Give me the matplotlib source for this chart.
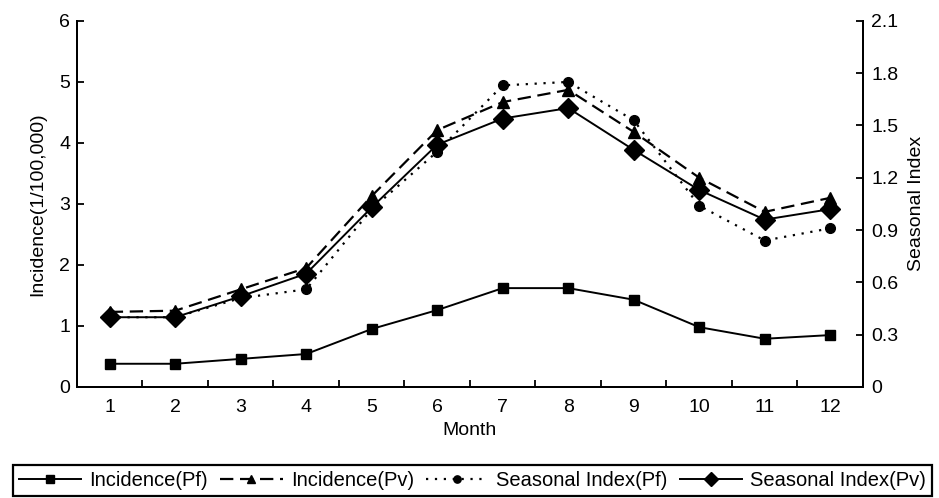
import numpy as np
import matplotlib.pyplot as plt
from matplotlib.ticker import FixedLocator

plt.rcParams['font.family'] = ['Liberation Sans Narrow', 'Liberation Sans', 'DejaVu Sans']

# Datos
months = [1, 2, 3, 4, 5, 6, 7, 8, 9, 10, 11, 12]
inc_pf = [0.38, 0.38, 0.46, 0.54, 0.95, 1.26, 1.62, 1.62, 1.43, 0.98, 0.79, 0.85]
inc_pv = [1.23, 1.25, 1.60, 1.95, 3.13, 4.21, 4.67, 4.87, 4.18, 3.43, 2.87, 3.10]
si_pf = [0.40, 0.40, 0.51, 0.56, 1.02, 1.35, 1.73, 1.75, 1.53, 1.04, 0.84, 0.91]
si_pv = [0.40, 0.40, 0.52, 0.65, 1.03, 1.39, 1.54, 1.60, 1.36, 1.13, 0.96, 1.02]

fig = plt.figure(figsize=(9.39, 4.98), dpi=100)
ax = fig.add_axes([0.082, 0.223, 0.837, 0.735])
ax2 = ax.twinx()

l1, = ax.plot(months, inc_pf, color='black', lw=1.4, marker='s', ms=7)
l2, = ax.plot(months, inc_pv, color='black', lw=1.6, ls=(0, (6, 3)), marker='^', ms=8)
l3, = ax2.plot(months, si_pf, color='black', lw=1.6, ls=(0, (1, 3)), marker='o', ms=7)
l4, = ax2.plot(months, si_pv, color='black', lw=1.4, marker='D', ms=10)

ax.set_xlim(0.5, 12.5)
ax.set_ylim(0, 6)
ax2.set_ylim(0, 2.1)
ax.set_yticks(range(0, 7))
ax2.set_yticks(np.arange(0, 2.11, 0.3))
ax2.set_yticklabels(['0', '0.3', '0.6', '0.9', '1.2', '1.5', '1.8', '2.1'])
ax.set_xticks(months)
ax.xaxis.set_minor_locator(FixedLocator(np.arange(0.5, 12.6, 1)))
ax.tick_params(axis='x', which='major', length=0, pad=9, labelsize=14)
ax.tick_params(axis='x', which='minor', direction='in', length=5, width=1.3)
ax.tick_params(axis='y', direction='in', length=5, width=1.3, labelsize=14, pad=5)
ax2.tick_params(axis='y', direction='in', length=5, width=1.3, labelsize=14, pad=6)

for a in (ax, ax2):
    a.spines['top'].set_visible(False)
    for s in ('left', 'right', 'bottom'):
        a.spines[s].set_linewidth(1.4)

ax.set_xlabel('Month', fontsize=14, labelpad=4)
ax.set_ylabel('Incidence(1/100,000)', fontsize=14, labelpad=9)
ax2.set_ylabel('Seasonal Index', fontsize=14, labelpad=7)

leg = fig.legend([l1, l2, l3, l4],
                 ['Incidence(Pf)', 'Incidence(Pv)', 'Seasonal Index(Pf)', 'Seasonal Index(Pv)'],
                 loc='upper left', bbox_to_anchor=(0.0138, 0.066),
                 ncol=4, fontsize=14.5, handlelength=3.1, handletextpad=0.4, columnspacing=0.6,
                 fancybox=False, edgecolor='black', framealpha=1, borderaxespad=0,
                 borderpad=0.3, markerscale=0.75)
leg.get_frame().set_linewidth(1.6)

fig.savefig('out.png', dpi=100)
